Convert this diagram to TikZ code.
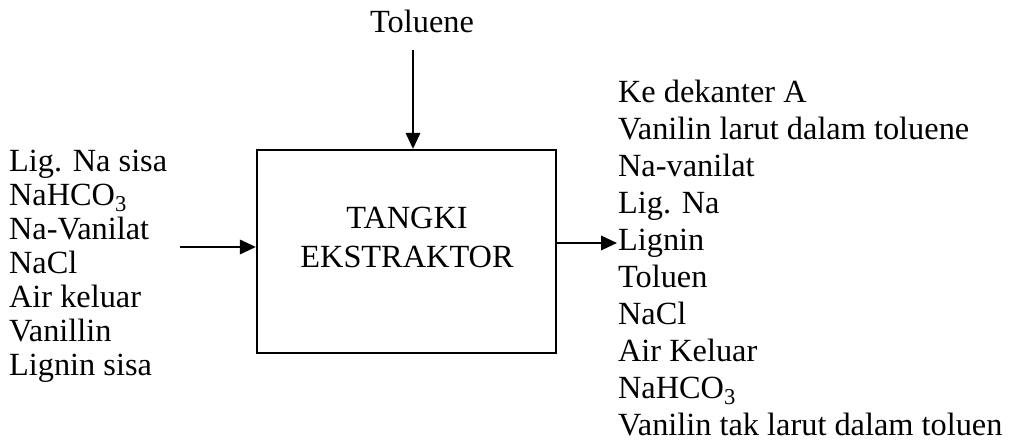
\documentclass[tikz,border=0pt]{standalone}
\usepackage{fontspec}
\setmainfont{Liberation Serif}
\usetikzlibrary{arrows.meta}

\begin{document}
\begin{tikzpicture}[>={Triangle[length=4mm,width=3.6mm]}, line width=1.6pt,
    every node/.style={font=\fontsize{23}{27.6}\selectfont, inner sep=0pt}]
    \useasboundingbox (0,0) rectangle (25.3,11.125);
    \def\ls{0.8475}
    \def\rs{0.925}
    \node[draw, minimum width=7.475cm, minimum height=5.075cm] (tank) at (10.1625,4.8375) {};
    \node[align=center] (tanklbl) at (10.175,5.1875) {TANGKI\\EKSTRAKTOR};
    \node[anchor=base] (tol) at (10.55,10.3) {Toluene};
    \coordinate (tin) at (10.325,9.875);
    \draw[->] (tin) -- (tin |- tank.north);
    % umpan masuk
    \foreach \t [count=\i] in {Lig. Na sisa, NaHCO\textsubscript{3}, Na-Vanilat, NaCl,
        Air keluar, Vanillin, Lignin sisa}{
        \node[anchor=base west] (in\i) at (0.2,6.825-\i*\ls+\ls) {\t};
    }
    \coordinate (lin) at (4.5,4.95);
    \draw[->] (lin) -- (lin -| tank.west);
    % keluar ke dekanter
    \foreach \t [count=\i] in {Ke dekanter A, Vanilin larut dalam toluene, Na-vanilat,
        Lig. Na, Lignin, Toluen, NaCl, Air Keluar, NaHCO\textsubscript{3},
        Vanilin tak larut dalam toluen}{
        \node[anchor=base west] (out\i) at (15.425,8.55-\i*\rs+\rs) {\t};
    }
    \coordinate (rout) at (15.425,5.05);
    \draw[->] (rout -| tank.east) -- (rout);
\end{tikzpicture}
\end{document}
